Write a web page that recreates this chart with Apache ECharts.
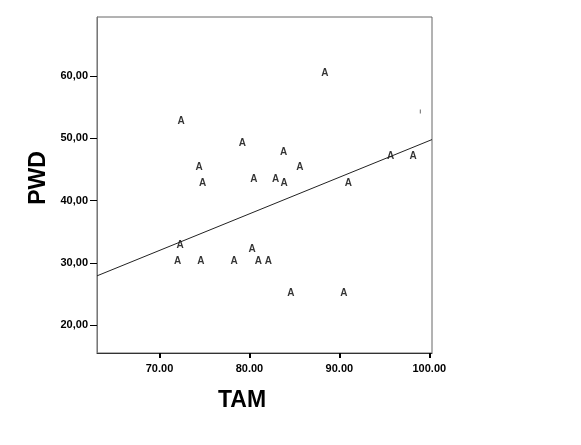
<!DOCTYPE html>
<html><head><meta charset="utf-8">
<script src="https://cdn.jsdelivr.net/npm/echarts@6/dist/echarts.min.js"></script>
<style>html,body{margin:0;padding:0;background:#fff}#c{width:581px;height:445px}</style>
</head><body><div id="c"></div>
<script>
const tam = [88.4, 72.4, 79.2, 83.8, 74.4, 85.6, 95.7, 98.2, 74.8, 80.5, 82.9, 83.85, 91.0, 72.3, 80.3, 72.0, 74.6, 78.3, 81.0, 82.1, 84.6, 90.5];
const pwd = [60.4, 52.8, 49.2, 47.8, 45.3, 45.3, 47.2, 47.2, 42.75, 43.5, 43.5, 42.75, 42.75, 32.8, 32.1, 30.25, 30.25, 30.25, 30.25, 30.25, 25.1, 25.1];
const fitLine = [[63.05, 27.9], [100.3, 49.8]];
const stray = [[99.0, 54.3]];
const xTicks = [70, 80, 90, 100];
const yTicks = [20, 30, 40, 50, 60];
const xRange = [63.05, 100.3];
const yRange = [15.5, 69.5];

const pts = tam.map((x, i) => [x, pwd[i]]);
const font = '"Liberation Sans", Arial, sans-serif';
const chart = echarts.init(document.getElementById('c'), null, {renderer: 'canvas'});
chart.setOption({
  animation: false,
  backgroundColor: '#fff',
  grid: {left: 97, top: 17, right: 149, bottom: 92, show: true, borderColor: '#666', borderWidth: 1, backgroundColor: 'transparent'},
  xAxis: {
    type: 'value', min: xRange[0], max: xRange[1],
    splitLine: {show: false},
    axisLine: {show: true, onZero: false, lineStyle: {color: '#333', width: 1}},
    axisTick: {show: true, length: 5, customValues: xTicks, lineStyle: {color: '#000', width: 2}},
    axisLabel: {customValues: xTicks, margin: 10, fontFamily: font, fontWeight: 'bold', fontSize: 11, color: '#000',
      formatter: v => v.toFixed(2)}
  },
  yAxis: {
    type: 'value', min: yRange[0], max: yRange[1],
    splitLine: {show: false},
    axisLine: {show: true, onZero: false, lineStyle: {color: '#777', width: 1}},
    axisTick: {show: true, length: 7, customValues: yTicks, lineStyle: {color: '#000', width: 1}},
    axisLabel: {customValues: yTicks, margin: 9, fontFamily: font, fontWeight: 'bold', fontSize: 11, color: '#000',
      formatter: v => v.toFixed(2).replace('.', ',')}
  },
  graphic: [
    {type: 'text', left: 218, top: 389, style: {text: 'TAM', font: 'bold 23px ' + font, fill: '#000'}},
    {type: 'text', x: 27, y: 178, rotation: Math.PI / 2, style: {text: 'PWD', font: 'bold 23px ' + font, fill: '#000', align: 'center', verticalAlign: 'top'}}
  ],
  series: [
    {type: 'line', data: fitLine, symbol: 'none', lineStyle: {color: '#222', width: 1}, silent: true},
    {type: 'scatter', data: pts, symbolSize: 0,
      label: {show: true, position: 'inside', formatter: 'A', fontFamily: font, fontWeight: 'bold', fontSize: 10, color: '#000'}},
    {type: 'scatter', data: stray, symbol: 'rect', symbolSize: [1, 4], itemStyle: {color: '#444'}}
  ]
});
</script></body></html>
